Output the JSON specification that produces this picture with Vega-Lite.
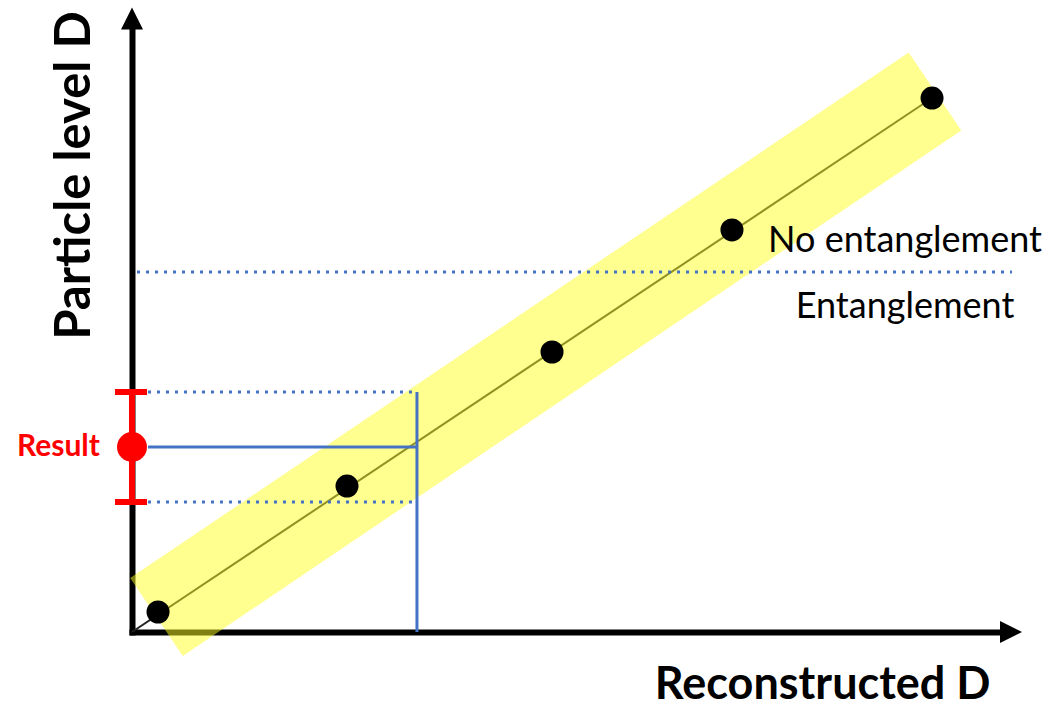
{
  "$schema": "https://vega.github.io/schema/vega-lite/v6.json",
  "width": 868,
  "height": 602,
  "autosize": {"type": "none"},
  "padding": {"left": 132, "top": 30, "right": 53, "bottom": 75},
  "background": "white",
  "config": {"view": {"stroke": null}},
  "datasets": {
    "diag": [{"x": 0, "y": 0}, {"x": 9.217, "y": 8.870}],
    "band": [{"x": 0.282, "y": 0.249}, {"x": 9.251, "y": 8.979}],
    "pts": [
      {"x": 0.30, "y": 0.332},
      {"x": 2.477, "y": 2.425},
      {"x": 4.839, "y": 4.651},
      {"x": 6.912, "y": 6.678},
      {"x": 9.217, "y": 8.870}
    ],
    "solid": [
      {"x": 0.184, "x2": 3.283, "y": 3.073, "y2": 3.073},
      {"x": 3.283, "x2": 3.283, "y": 0, "y2": 3.987}
    ],
    "dotted": [
      {"x": 0.184, "x2": 3.226, "y": 3.987, "y2": 3.987},
      {"x": 0.184, "x2": 3.226, "y": 2.159, "y2": 2.159},
      {"x": 0.058, "x2": 10.138, "y": 5.980, "y2": 5.980}
    ],
    "errbar": [
      {"x": 0, "x2": 0, "y": 2.159, "y2": 3.987},
      {"x": -0.196, "x2": 0.173, "y": 3.987, "y2": 3.987},
      {"x": -0.196, "x2": 0.173, "y": 2.159, "y2": 2.159}
    ],
    "result": [{"x": 0, "y": 3.073}],
    "resultLabel": [{"x": -0.369, "y": 3.073, "label": "Result"}],
    "regions": [
      {"x": 8.906, "y": 6.495, "label": "No entanglement"},
      {"x": 8.906, "y": 5.399, "label": "Entanglement"}
    ],
    "arrowX": [{"x": 10.127, "y": 0}],
    "arrowY": [{"x": 0, "y": 10.191}]
  },
  "encoding": {
    "x": {
      "field": "x",
      "type": "quantitative",
      "scale": {"domain": [0, 10], "nice": false, "zero": false},
      "axis": {
        "title": "Reconstructed D",
        "domainColor": "black",
        "domainWidth": 6,
        "domainCap": "square",
        "ticks": false,
        "labels": false,
        "grid": false,
        "titleFont": "Lato",
        "titleFontWeight": "bold",
        "titleFontSize": 45,
        "titleColor": "black",
        "titleX": 858,
        "titleY": 52,
        "titleAlign": "right",
        "titleBaseline": "middle"
      }
    },
    "y": {
      "field": "y",
      "type": "quantitative",
      "scale": {"domain": [0, 10], "nice": false, "zero": false},
      "axis": {
        "title": "Particle level D",
        "domainColor": "black",
        "domainWidth": 6,
        "domainCap": "square",
        "ticks": false,
        "labels": false,
        "grid": false,
        "titleFont": "Lato",
        "titleFontWeight": "bold",
        "titleFontSize": 49,
        "titleColor": "black",
        "titleAngle": -90,
        "titleX": -58,
        "titleY": 145,
        "titleAlign": "center",
        "titleBaseline": "middle"
      }
    }
  },
  "layer": [
    {
      "data": {"name": "diag"},
      "mark": {"type": "line", "color": "#222222", "strokeWidth": 2}
    },
    {
      "data": {"name": "band"},
      "mark": {"type": "line", "color": "#FFFF22", "opacity": 0.5, "strokeWidth": 94, "strokeCap": "butt"}
    },
    {
      "data": {"name": "solid"},
      "mark": {"type": "rule", "color": "#4472C4", "strokeWidth": 3},
      "encoding": {"x2": {"field": "x2"}, "y2": {"field": "y2"}}
    },
    {
      "data": {"name": "dotted"},
      "mark": {"type": "rule", "color": "#4472C4", "strokeWidth": 3, "strokeDash": [3, 6]},
      "encoding": {"x2": {"field": "x2"}, "y2": {"field": "y2"}}
    },
    {
      "data": {"name": "pts"},
      "mark": {"type": "point", "shape": "circle", "filled": true, "color": "black", "opacity": 1, "size": 530}
    },
    {
      "data": {"name": "errbar"},
      "mark": {"type": "rule", "color": "#FF0000", "strokeWidth": 6},
      "encoding": {"x2": {"field": "x2"}, "y2": {"field": "y2"}}
    },
    {
      "data": {"name": "result"},
      "mark": {"type": "point", "shape": "circle", "filled": true, "color": "#FF0000", "opacity": 1, "size": 900}
    },
    {
      "data": {"name": "resultLabel"},
      "mark": {"type": "text", "color": "#FF0000", "font": "Lato", "fontWeight": "bold", "fontSize": 30, "align": "right", "baseline": "middle"},
      "encoding": {"text": {"field": "label"}}
    },
    {
      "data": {"name": "regions"},
      "mark": {"type": "text", "color": "black", "font": "Lato", "fontSize": 36, "align": "center", "baseline": "middle"},
      "encoding": {"text": {"field": "label"}}
    },
    {
      "data": {"name": "arrowX"},
      "mark": {"type": "point", "shape": "M1,0L-1,-1L-1,1Z", "filled": true, "color": "black", "opacity": 1, "size": 484}
    },
    {
      "data": {"name": "arrowY"},
      "mark": {"type": "point", "shape": "M0,-1L1,1L-1,1Z", "filled": true, "color": "black", "opacity": 1, "size": 484}
    }
  ]
}
